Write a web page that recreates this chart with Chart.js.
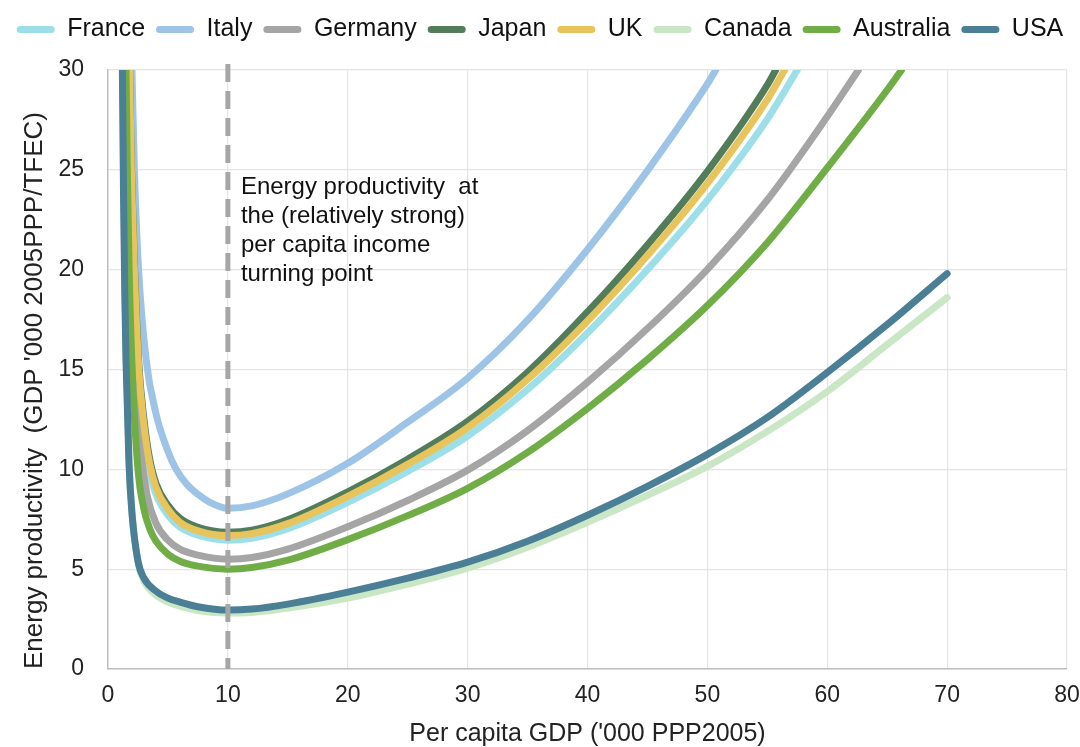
<!DOCTYPE html>
<html>
<head>
<meta charset="utf-8">
<script src="https://cdn.jsdelivr.net/npm/chart.js@4.4.1/dist/chart.umd.min.js"></script>
<style>
  html, body { margin: 0; padding: 0; background: #ffffff; }
  #wrap { width: 1080px; height: 747px; }
</style>
</head>
<body>
<div id="wrap"><canvas id="chart" width="1080" height="747"></canvas></div>
<script>
// Energy productivity curves: [per capita GDP ('000 PPP2005), GDP '000 2005PPP / TFEC]
const countries = ['France', 'Italy', 'Germany', 'Japan', 'UK', 'Canada', 'Australia', 'USA'];
const lineColors = ['#9ddfe9', '#9dc3e6', '#a5a5a5', '#527c5a', '#e7c45c', '#c9e7c4', '#70ad47', '#4a7f95'];

const france = [[1.75,30],[1.9,25],[2.1,20.5],[2.5,15.0],[2.95,11.9],[3.4,10.0],[4,8.75],[5,7.7],[6,7.1],[7.5,6.7],[10,6.45],
  [12,6.55],[15,7.03],[20,8.35],[25,9.9],[30,11.67],[35,14.0],[40,16.83],[45,20.0],[50,23.48],[55,27.54],[57.5,30]];
const italy = [[2.0,30],[2.2,25],[2.55,20],[3.2,15.4],[4,12.8],[5,10.9],[5.6,10.1],[6.5,9.3],[7.5,8.75],[8.5,8.35],[10,8.05],
  [12,8.17],[15,8.77],[20,10.3],[25,12.36],[30,14.57],[35,17.47],[40,21.01],[45,24.96],[50,29.3],[50.7,30]];
const germany = [[1.65,30],[1.8,24.5],[2.0,19.5],[2.3,15.0],[2.8,10.6],[3.3,8.6],[4,7.3],[5,6.45],[6,6.0],[7.5,5.7],[10,5.5],
  [12,5.58],[15,6.0],[20,7.12],[25,8.44],[30,9.96],[35,11.94],[40,14.36],[45,17.05],[50,20.02],[55,23.49],[60,27.67],[62.6,30]];
const japan = [[1.8,30],[1.95,25.2],[2.17,20.8],[2.57,15.3],[3.0,12.5],[3.45,10.6],[4,9.3],[5,8.2],[6,7.55],[7.5,7.1],[10,6.85],
  [12,6.95],[15,7.47],[20,8.87],[25,10.51],[30,12.4],[35,14.86],[40,17.88],[45,21.24],[50,24.93],[55,29.25],[55.7,30]];
const uk = [[1.8,30],[1.95,25],[2.17,20.5],[2.57,15.0],[3.0,12.2],[3.45,10.35],[4,9.1],[5,8.0],[6,7.35],[7.5,6.92],[10,6.68],
  [12,6.78],[15,7.28],[20,8.65],[25,10.25],[30,12.09],[35,14.5],[40,17.43],[45,20.71],[50,24.32],[55,28.52],[56.45,30]];
const canada = [[1.22,30],[1.32,23.5],[1.42,18.8],[1.52,15.5],[1.78,10.2],[2.03,7.6],[2.55,5.2],[3.05,4.35],[4,3.7],[5,3.35],[6,3.15],[7.5,2.93],[10,2.8],
  [12,2.83],[15,3.05],[20,3.55],[25,4.25],[30,5.05],[35,6.1],[40,7.35],[45,8.7],[50,10.15],[55,11.9],[60,13.9],[65,16.25],[70,18.6]];
const australia = [[1.5,30],[1.6,25.4],[1.75,20.3],[2.0,15.2],[2.5,10.0],[3.0,8.0],[3.5,7.0],[4,6.4],[5,5.75],[6,5.4],[7.5,5.15],[10,5.0],
  [12,5.08],[15,5.45],[20,6.48],[25,7.68],[30,9.05],[35,10.85],[40,13.05],[45,15.5],[50,18.2],[55,21.35],[60,25.1],[65,29.0],[66.2,30]];
const usa = [[1.2,30],[1.3,23.5],[1.4,18.8],[1.5,15.5],[1.75,10.3],[2.0,7.8],[2.5,5.4],[3.0,4.55],[4,3.9],[5,3.55],[6,3.35],[7.5,3.12],[10,2.95],
  [12,3.0],[15,3.25],[20,3.85],[25,4.55],[30,5.35],[35,6.4],[40,7.7],[45,9.15],[50,10.75],[55,12.6],[60,14.85],[65,17.25],[70,19.8]];

const seriesPoints = [france, italy, germany, japan, uk, canada, australia, usa];

const xTicks = [0, 10, 20, 30, 40, 50, 60, 70, 80];
const yTicks = [0, 5, 10, 15, 20, 25, 30];
const turningPointGdp = 10;
const noteLines = ['Energy productivity  at', 'the (relatively strong)', 'per capita income', 'turning point'];

const FONT = '"Liberation Sans", Arial, Helvetica, sans-serif';

const datasets = countries.map((name, i) => ({
  label: name,
  data: seriesPoints[i].map(p => ({ x: p[0], y: p[1] })),
  borderColor: lineColors[i],
  backgroundColor: lineColors[i],
  borderWidth: 7,
  borderCapStyle: 'round',
  borderJoinStyle: 'round',
  pointRadius: 0,
  pointHoverRadius: 0,
  cubicInterpolationMode: 'monotone',
  fill: false,
  clip: 0,
  // later countries are painted on top
  order: countries.length - i
}));

// vertical dashed marker at the turning point plus its note
const turningPointPlugin = {
  id: 'turningPoint',
  afterDatasetsDraw(chart) {
    const { ctx, scales: { x, y } } = chart;
    const px = x.getPixelForValue(turningPointGdp);
    ctx.save();
    ctx.strokeStyle = '#a6a6a6';
    ctx.lineWidth = 5;
    ctx.setLineDash([18, 9]);
    ctx.beginPath();
    ctx.moveTo(px, y.getPixelForValue(30) - 6);
    ctx.lineTo(px, y.getPixelForValue(0));
    ctx.stroke();
    ctx.setLineDash([]);
    ctx.fillStyle = '#111111';
    ctx.font = '24px ' + FONT;
    ctx.textBaseline = 'middle';
    ctx.textAlign = 'left';
    const top = y.getPixelForValue(24.1);
    noteLines.forEach((t, k) => ctx.fillText(t, px + 13, top + k * 28.8));
    ctx.restore();
  }
};

// fixed legend band height so the plot area starts where it should
const legendBand = {
  id: 'legendBand',
  beforeLayout(chart) {
    const lg = chart.legend;
    if (lg && !lg._bandFit) {
      const fit = lg.fit;
      lg.fit = function () { fit.call(this); this.height = 64; };
      lg._bandFit = true;
    }
  }
};

new Chart(document.getElementById('chart'), {
  type: 'line',
  data: { datasets },
  options: {
    responsive: false,
    devicePixelRatio: 1,
    animation: false,
    layout: { autoPadding: false, padding: { top: 6, right: 0, left: 0, bottom: 0 } },
    plugins: {
      tooltip: { enabled: false },
      legend: {
        position: 'top',
        align: 'center',
        labels: {
          font: { family: FONT, size: 25 },
          color: '#111111',
          boxWidth: 38,
          boxHeight: 7,
          padding: 11,
          useBorderRadius: true,
          borderRadius: 3.5,
          sort: (a, b) => a.datasetIndex - b.datasetIndex,
          generateLabels(chart) {
            const items = Chart.defaults.plugins.legend.labels.generateLabels(chart);
            return items.map(it => Object.assign(it, { lineWidth: 0, fillStyle: lineColors[it.datasetIndex] }));
          }
        }
      }
    },
    scales: {
      x: {
        type: 'linear',
        min: 0,
        max: 80,
        afterBuildTicks(scale) { scale.ticks = xTicks.map(v => ({ value: v })); },
        afterFit(scale) {
          scale.height = 78;
          scale.paddingLeft = 0;
          scale.paddingRight = 13;
        },
        ticks: { font: { family: FONT, size: 23 }, color: '#222222', padding: 13, maxRotation: 0 },
        grid: { color: '#e4e4e4', lineWidth: 1.2, drawTicks: false },
        border: { color: '#bfbfbf', width: 1.5 },
        title: {
          display: true,
          text: "Per capita GDP ('000 PPP2005)",
          font: { family: FONT, size: 25, lineHeight: 1 },
          color: '#222222',
          padding: { top: 0, bottom: 0 }
        }
      },
      y: {
        type: 'linear',
        min: 0,
        max: 30,
        afterBuildTicks(scale) { scale.ticks = yTicks.map(v => ({ value: v })); },
        afterFit(scale) { scale.width = 108; },
        ticks: { font: { family: FONT, size: 23 }, color: '#222222', padding: 24 },
        grid: { color: '#e4e4e4', lineWidth: 1.2, drawTicks: false },
        border: { color: '#bfbfbf', width: 1.5 },
        title: {
          display: true,
          align: 'start',
          text: "Energy productivity  (GDP '000 2005PPP/TFEC)",
          font: { family: FONT, size: 26, lineHeight: 1.2 },
          color: '#222222',
          padding: { top: 19, bottom: 0 }
        }
      }
    }
  },
  plugins: [turningPointPlugin, legendBand]
});
</script>
</body>
</html>
